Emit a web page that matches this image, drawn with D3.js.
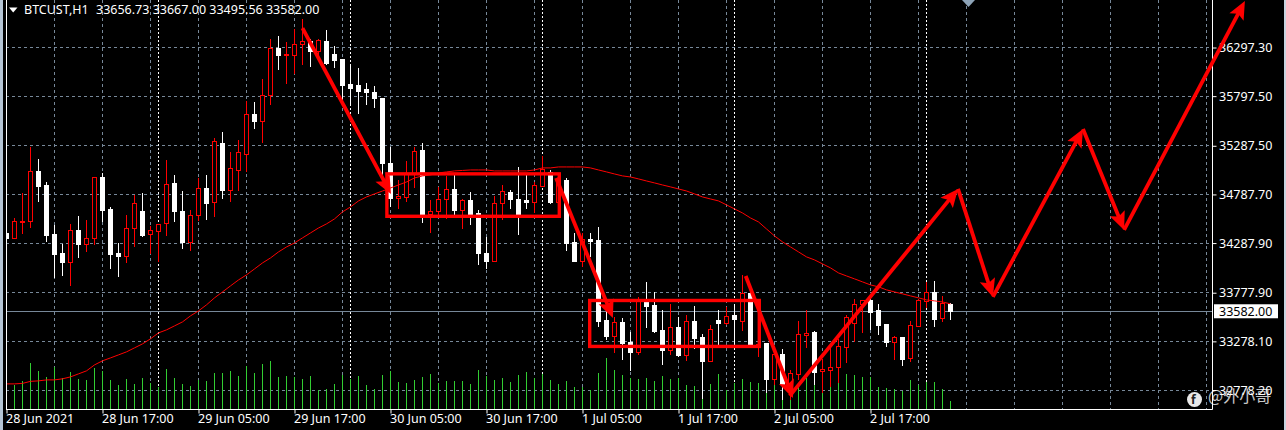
<!DOCTYPE html>
<html><head><meta charset="utf-8">
<script src="https://cdn.jsdelivr.net/npm/d3@7/dist/d3.min.js"></script>
<style>html,body{margin:0;padding:0;background:#000;overflow:hidden}svg{display:block}text{font-family:"Noto Sans",sans-serif}</style>
</head><body><svg id="c" width="1286" height="430"></svg>
<script>
const opens=[34382,34330,34495,34505,35019,34875,34371,34176,34084,34413,34269,34330,34957,34628,34176,34146,34433,34608,34371,34402,34485,34895,34608,34289,34567,34844,34700,35316,34823,35029,35203,35614,35532,35799,36292,36220,36220,36323,36354,36261,36364,36230,36169,35912,35902,35861,35830,35778,35101,34741,34752,34998,35234,34577,34608,34731,34834,34618,34721,34587,34176,34094,34690,34803,34731,34721,34700,34865,35008,34700,34926,34289,34094,34320,34310,33488,33324,33468,33262,33160,33683,33642,33386,33180,33416,33129,33478,33314,33067,33488,33458,33540,33478,33766,33232,33252,32882,33139,32759,32934,33334,33365,32965,32975,33006,33211,33458,33653,33694,33591,33447,33262,33314,33098,33427,33683,33776,33509,33656.73];
const highs=[34536,34546,34803,35275,35152,34916,34474,34279,34485,34567,34526,34957,35008,34659,34289,34577,34782,34803,34464,34474,35142,34988,34823,34628,34957,34988,35368,35429,35224,35347,35748,35737,35974,36384,36415,36354,36487,36590,36384,36384,36477,36313,36169,36117,36087,35933,35902,35778,35275,34936,35132,35275,35316,34731,34865,34978,34998,34741,34813,34628,34351,34772,34885,34834,35070,34998,34916,35183,35039,34957,34957,34392,34392,34392,34454,33601,33529,33519,33375,33735,33889,33786,33601,33663,33529,33550,33642,33355,33447,33601,33632,33653,33961,33796,33293,33252,33139,33201,32985,33488,33601,33386,33098,33232,33304,33550,33714,33704,33714,33663,33458,33334,33314,33488,33714,33889,33899,33745,33667];
const lows=[34248,34330,34382,34443,34710,34300,33930,33950,33848,34135,34197,34269,34505,34022,33940,34084,34248,34351,34176,34094,34361,34505,34228,34207,34515,34526,34556,34741,34710,34823,35019,35460,35316,35707,36066,35922,36025,36117,36097,36200,36117,36087,35737,35696,35614,35707,35676,34988,34659,34639,34710,34854,34495,34392,34546,34536,34577,34433,34474,34063,34022,34094,34526,34639,34371,34639,34597,34865,34690,34700,34207,34094,34043,34146,33427,33293,33160,33088,32975,33139,33416,33365,33036,33139,33119,33078,33201,32687,33067,33242,33447,33242,33386,33232,33119,32749,32831,32677,32677,32882,33211,32831,32749,32810,32852,33057,33273,33365,33396,33345,33221,33088,33026,33067,33427,33622,33427,33478,33495.56];
const closes=[34330,34505,34505,35019,34865,34361,34166,34084,34413,34269,34330,34957,34618,34166,34146,34433,34690,34361,34413,34474,34885,34608,34289,34567,34844,34690,35327,34823,35049,35214,35614,35532,35799,36292,36220,36230,36323,36354,36261,36374,36128,36159,35902,35881,35850,35830,35778,35101,34741,34762,34998,35224,34577,34608,34731,34834,34618,34721,34577,34176,34094,34690,34813,34731,34577,34700,34875,35039,34700,34926,34279,34094,34320,34300,33478,33324,33468,33252,33160,33683,33632,33375,33180,33416,33129,33478,33304,33067,33396,33458,33529,33499,33766,33242,33242,32882,33139,32831,32944,33345,33355,32954,32985,33006,33221,33519,33653,33694,33571,33437,33262,33314,33088,33437,33694,33776,33499,33663,33582];
const volumes=[2000,2400,2800,4600,3800,3200,4200,3100,3700,3000,2900,4100,3800,2900,2400,3000,2500,3100,2600,2200,4000,3100,2500,2300,2900,2800,3600,3600,3800,3300,4300,3600,4500,4800,3200,3300,3200,3000,3300,1900,2000,2500,3400,3000,3300,2400,2000,3400,3800,2700,2600,2900,3200,3500,2600,2800,2800,2800,2500,3900,3300,2900,3100,2700,3400,3700,3100,3500,2900,2500,2800,2200,2200,1900,3600,5100,3900,3400,3100,3000,3100,2800,3300,3000,3100,2400,2300,1000,2500,3500,1900,2600,3000,2700,2600,1600,2400,1700,1900,2600,3100,2600,1600,2300,2600,3500,3400,3200,3200,2200,2100,2000,1800,2900,2400,2700,2700,2000,800];
const maValues=[32841,32841,32846,32867,32872,32882,32882,32893,32913,32944,32975,33036,33078,33108,33139,33170,33211,33252,33304,33365,33396,33437,33478,33540,33591,33653,33725,33786,33848,33909,33961,34022,34084,34135,34197,34248,34289,34341,34392,34443,34485,34536,34608,34659,34721,34762,34793,34823,34854,34885,34916,34957,34978,34988,35008,35019,35029,35034,35039,35039,35039,35029,35029,35029,35029,35029,35039,35060,35060,35070,35070,35070,35070,35060,35039,35019,34998,34978,34967,34947,34926,34906,34885,34865,34844,34823,34793,34762,34741,34721,34680,34639,34597,34546,34505,34433,34361,34300,34248,34197,34146,34115,34074,34033,33981,33950,33920,33889,33858,33838,33807,33786,33766,33745,33725,33704,33694,33683,33663];
const priceTicks=[36297.3,35797.5,35287.5,34787.7,34287.9,33777.9,33278.1,32778.2];
const timeTickBars=[0,12,24,36,48,60,72,84,96,108];
const timeLabels=["28 Jun 2021","28 Jun 17:00","29 Jun 05:00","29 Jun 17:00","30 Jun 05:00","30 Jun 17:00","1 Jul 05:00","1 Jul 17:00","2 Jul 05:00","2 Jul 17:00"];
const titleSymbol="BTCUST,H1";
const titleOHLC="33656.73 33667.00 33495.56 33582.00";
const lastPrice=33582;
// annotations, [bar index, price]
const arrowDown1=[[37,36497],[48.06,34793]];
const arrowDown2=[[68.7,34957],[75.8,33519]];
const arrowDown3=[[92.4,33950],[98.3,32697]];
const forecastPath=[[97.9,32718],[118.94,34844],[123.3,33735],[134.56,35460],[139.7,34423],[154.8,36775]];
const boxes=[[47.55,34999,69.1,34563],[72.9,33698,94.1,33226]];

const svg=d3.select("#c");
const x=d3.scaleLinear().domain([0,118]).range([6.5,950.5]);
const y=d3.scaleLinear().domain([36297.3,32778.2]).range([47.5,390]);
const v=d3.scaleLinear().domain([0,5100]).range([409,358]);
const px=v=>Math.round(v-0.5)+0.5;
const LEFT=6, RIGHT=1212.5, BOTTOM=409.5;

svg.append("defs").append("clipPath").attr("id","plot").append("rect").attr("x",LEFT).attr("y",0).attr("width",RIGHT-LEFT).attr("height",BOTTOM);

// window borders
svg.append("rect").attr("x",0).attr("y",0).attr("width",3).attr("height",430).attr("fill","#b4c4d4");
svg.append("rect").attr("x",1284).attr("y",0).attr("width",2).attr("height",430).attr("fill","#c8d4e0");

// grid
const grid=svg.append("g").attr("stroke","#778899").attr("stroke-width",1).attr("stroke-dasharray","3,3").attr("fill","none");
grid.selectAll("line.h").data(priceTicks).join("line").attr("x1",LEFT).attr("x2",RIGHT).attr("y1",d=>px(y(d))).attr("y2",d=>px(y(d)));
grid.selectAll("line.v").data(d3.range(6,151,6)).join("line").attr("y1",0).attr("y2",BOTTOM).attr("x1",d=>x(d)).attr("x2",d=>x(d));
svg.append("g").attr("stroke","#fff").attr("stroke-dasharray","2,2").selectAll("line").data(d3.range(19,116,24)).join("line")
  .attr("y1",0).attr("y2",BOTTOM).attr("x1",d=>x(d)).attr("x2",d=>x(d));

// bid line
svg.append("line").attr("x1",LEFT).attr("x2",RIGHT).attr("y1",px(y(lastPrice))).attr("y2",px(y(lastPrice))).attr("stroke","#778899");

// volumes
svg.append("g").attr("stroke","#32cd32").selectAll("line").data(volumes).join("line")
  .attr("x1",(d,i)=>x(i)).attr("x2",(d,i)=>x(i)).attr("y1",409).attr("y2",d=>Math.round(v(d)));

// candles
const idx=d3.range(opens.length);
const cg=svg.append("g").attr("shape-rendering","crispEdges").attr("clip-path","url(#plot)");
const col=i=>closes[i]>=opens[i]?"#f00":"#fff";
cg.selectAll("line").data(idx).join("line").attr("x1",i=>x(i)).attr("x2",i=>x(i))
  .attr("y1",i=>Math.round(y(highs[i]))).attr("y2",i=>Math.round(y(lows[i]))).attr("stroke",col);
cg.selectAll("rect").data(idx).join("rect")
  .attr("x",i=>x(i)-2)
  .attr("y",i=>px(y(Math.max(opens[i],closes[i]))))
  .attr("width",4)
  .attr("height",i=>Math.max(1,px(y(Math.min(opens[i],closes[i])))-px(y(Math.max(opens[i],closes[i])))))
  .attr("fill",i=>closes[i]>=opens[i]?"#000":"#fff").attr("stroke",col);

// moving average
svg.append("path").attr("fill","none").attr("stroke","#f00").attr("stroke-width",1)
  .attr("d",d3.line().x((d,i)=>x(i)).y(d=>y(d))(maValues));

// axes
const ay=d3.axisRight(y).tickValues(priceTicks).tickFormat(d=>d.toFixed(2)).tickSize(4).tickPadding(3);
const gy=svg.append("g").attr("transform",`translate(${RIGHT},0)`).call(ay);
const ax=d3.axisBottom(x).tickValues(timeTickBars).tickFormat((d,i)=>timeLabels[i]).tickSize(4).tickPadding(1);
const gx=svg.append("g").attr("transform",`translate(0,${BOTTOM})`).call(ax);
[gy,gx].forEach(g=>{g.selectAll("path.domain").remove();g.selectAll("line").attr("stroke","#fff");
  g.selectAll("text").attr("fill","#fff").style("font-size","12.5px").style("font-family",'"Noto Sans",sans-serif');g.attr("font-size",null)});
gx.selectAll("text").attr("text-anchor","start").attr("dx",-1);
gy.selectAll("text").attr("x",6.5);
svg.append("line").attr("x1",LEFT+.5).attr("x2",LEFT+.5).attr("y1",0).attr("y2",BOTTOM).attr("stroke","#fff");
svg.append("line").attr("x1",RIGHT).attr("x2",RIGHT).attr("y1",0).attr("y2",BOTTOM).attr("stroke","#fff");
svg.append("line").attr("x1",LEFT).attr("x2",RIGHT).attr("y1",BOTTOM).attr("y2",BOTTOM).attr("stroke","#fff");

// last price label
svg.append("rect").attr("x",1214).attr("y",y(lastPrice)-7.5).attr("width",64).attr("height",14).attr("fill","#fff");
svg.append("text").attr("x",1219).attr("y",y(lastPrice)+4.5).attr("fill","#000").style("font-size","12.5px").text(lastPrice.toFixed(2));

// annotations
const red="#f00";
boxes.forEach(b=>svg.append("rect").attr("x",x(b[0])).attr("y",y(b[1])).attr("width",x(b[2])-x(b[0])).attr("height",y(b[3])-y(b[1]))
  .attr("fill","none").attr("stroke",red).attr("stroke-width",3.4));
function seg(a,b){
  const x0=x(a[0]),y0=y(a[1]),x1=x(b[0]),y1=y(b[1]);
  const L=Math.hypot(x1-x0,y1-y0),ux=(x1-x0)/L,uy=(y1-y0)/L,nx=-uy,ny=ux;
  svg.append("line").attr("x1",x0).attr("y1",y0).attr("x2",x1-ux*8).attr("y2",y1-uy*8).attr("stroke",red).attr("stroke-width",3.8);
  const h=18,w=8;
  svg.append("path").attr("fill",red).attr("d",d3.line()([[x1,y1],[x1-ux*h+nx*w,y1-uy*h+ny*w],[x1-ux*h*.8,y1-uy*h*.8],[x1-ux*h-nx*w,y1-uy*h-ny*w]])+"Z");
}
[arrowDown1,arrowDown2,arrowDown3].forEach(a=>seg(a[0],a[1]));
d3.pairs(forecastPath).forEach(p=>seg(p[0],p[1]));

// title
svg.append("path").attr("d","M9,7.5H17.5L13.2,12.5Z").attr("fill","#fff");
svg.append("text").attr("x",24).attr("y",14).attr("fill","#fff").style("font-size","12.5px").text(titleSymbol);
svg.append("text").attr("x",96).attr("y",14).attr("fill","#fff").style("font-size","12.5px").text(titleOHLC);
svg.append("path").attr("d","M962,0H975L968.5,7Z").attr("fill","#8ea4b8");

// watermark
svg.append("circle").attr("cx",1194.5).attr("cy",399.5).attr("r",7.5).attr("fill","#e8e8e8");
svg.append("text").attr("x",1191).attr("y",404).attr("fill","#222").style("font-size","12px").style("font-weight","700").text("f");
svg.append("text").attr("x",1208).attr("y",402).attr("fill","#fff").attr("opacity",.78).style("font-family",'"Noto Sans CJK SC"').style("font-size","16px").text("@外小哥");
</script></body></html>
